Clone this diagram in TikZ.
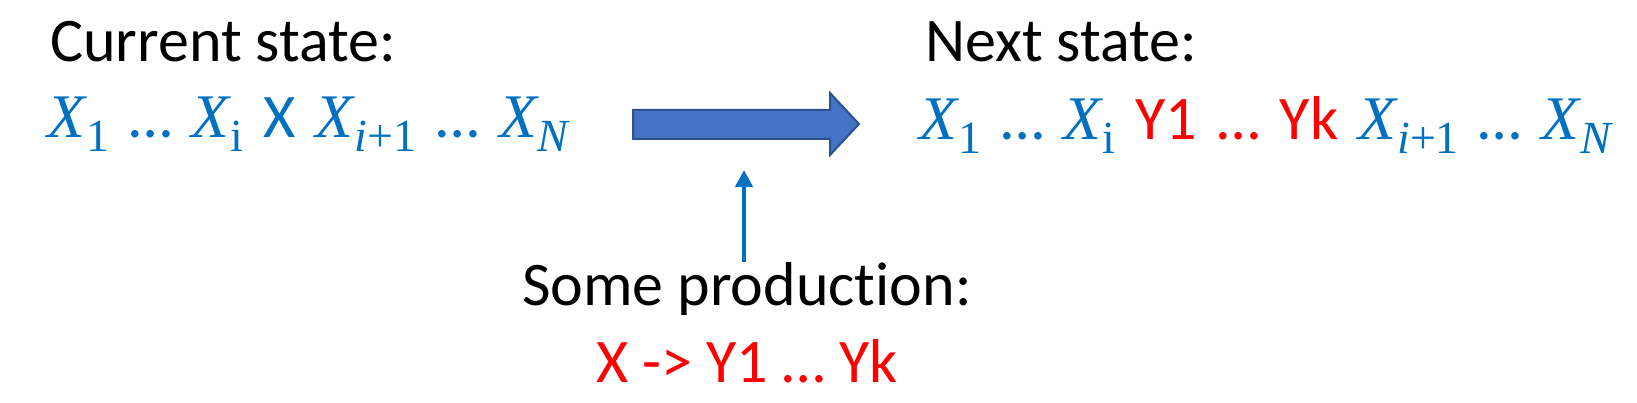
\documentclass[tikz,border=0pt]{standalone}
\usepackage{fontspec}
\setmainfont{Carlito}[Ligatures=NoCommon]
\newfontfamily\mathserif{Liberation Serif}
\usetikzlibrary{arrows.meta}
\definecolor{txtblue}{HTML}{0070C0}
\definecolor{txtred}{HTML}{FF0000}
\definecolor{arrowfill}{HTML}{4472C4}
\definecolor{arrowedge}{HTML}{2F528F}
\newcommand\mvar{{\mathserif\itshape X}}
\newcommand\msub[1]{\hspace{1pt}\raisebox{-14pt}{\fontsize{46}{46}\selectfont\mathserif #1}}
\newcommand\gp{\hspace{20pt}}
\tikzset{
  label text/.style={inner sep=0pt, anchor=base west, font=\fontsize{62}{70}\selectfont},
  seq text/.style={inner sep=0pt, anchor=base west, text=txtblue, font=\fontsize{62}{70}\selectfont},
  bigarrow/.style={fill=arrowfill, draw=arrowedge, line width=2pt, line join=miter},
  smallarrow/.style={draw=txtblue, line width=4.5pt, -{Triangle[width=17pt,length=17pt]}},
}
\begin{document}
\begin{tikzpicture}[x=1pt,y=-1pt]
\useasboundingbox (0,0) rectangle (1637,403);
\node[label text] (cur) at (50,62) {Current state:};
\node[seq text] (curseq) at (47,138) {\mvar\msub{1}\gp…\gp\mvar\msub{i}\gp X\gp\mvar\msub{\itshape i\upshape +1}\gp…\gp\mvar\msub{\itshape N}};
\node[label text] (nxt) at (925,62) {Next state:};
\node[seq text] (nxtseq) at (919,140) {\mvar\msub{1}\gp…\gp\mvar\msub{i}\gp\textcolor{txtred}{Y1\gp…\gp Yk}\gp\mvar\msub{\itshape i\upshape +1}\gp…\gp\mvar\msub{\itshape N}};
\node[inner sep=0pt, anchor=base, font=\fontsize{62}{70}\selectfont] (prod) at (747,305) {Some production:};
\node[inner sep=0pt, anchor=base, text=txtred, font=\fontsize{62}{70}\selectfont] (rule) at (747,382) {X -> Y1 … Yk};
\draw[bigarrow] (633,110) -- (830,110) -- (830,93) -- (859,124) -- (830,155) -- (830,139) -- (633,139) -- cycle;
\coordinate (bigbottom) at (744,170);
\draw[smallarrow] (prod.north -| bigbottom) -- (bigbottom);
\end{tikzpicture}
\end{document}
